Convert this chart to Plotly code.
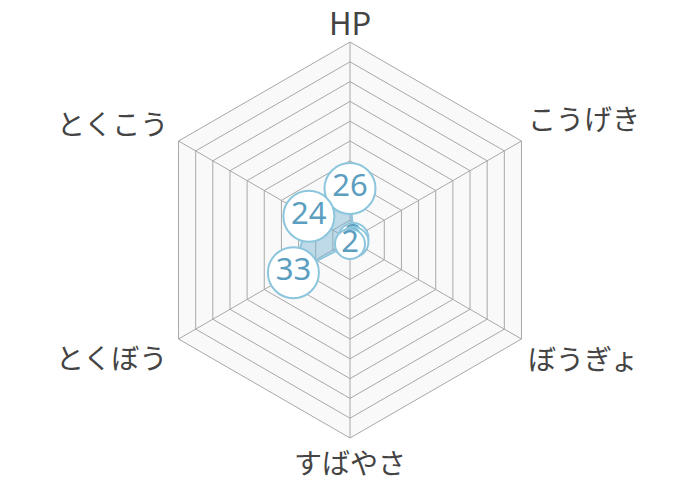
import math
import plotly.graph_objects as go

categories = ["HP", "こうげき", "ぼうぎょ", "すばやさ", "とくぼう", "とくこう"]
values = [26, 2, 2, 2, 33, 24]
labels = [str(v) for v in values]

# page body has an 8px margin, so the figure is laid out 8px up/left of where it shows
W, H = 700, 480
M = dict(l=0, r=16, t=34, b=50)
pw = W - M["l"] - M["r"]
ph = H - M["t"] - M["b"]
R = min(pw, ph) / 2

r_closed = values + values[:1]
theta_closed = categories + categories[:1]

fig = go.Figure()

fig.add_trace(go.Scatterpolar(
    r=r_closed, theta=theta_closed, mode="lines",
    fill="toself", fillcolor="rgba(110,175,210,0.42)",
    line=dict(color="#8cc6dc", width=2),
    hoverinfo="skip", showlegend=False,
))

# one trace per bubble so each label stays with its own circle when they stack
for cat, v, lab in zip(categories, values, labels):
    fig.add_trace(go.Scatterpolar(
        r=[v], theta=[cat], text=[lab],
        mode="markers+text",
        marker=dict(size=30 if len(lab) == 1 else 51, color="white",
                    line=dict(color="#8cc6dc", width=2), opacity=1),
        textfont=dict(family="Noto Sans", size=31, color="#5b9ec0"),
        textposition="middle center",
        hoverinfo="skip", showlegend=False,
    ))

# axis names as annotations, placed off each outer vertex
shifts = {
    "HP": ("center", 0, 21, 31),
    "こうげき": ("left", 5, 23, 28),
    "ぼうぎょ": ("left", 5, -19, 28),
    "すばやさ": ("center", 0, -24, 28),
    "とくぼう": ("right", -10, -18, 28),
    "とくこう": ("right", -9, 18, 28),
}
annotations = []
for i, cat in enumerate(categories):
    a = math.radians(i * 360 / len(categories))
    xa, dx, dy, fs = shifts[cat]
    annotations.append(dict(
        text=cat, xref="paper", yref="paper",
        x=0.5 + R * math.sin(a) / pw, y=0.5 + R * math.cos(a) / ph,
        xanchor=xa, yanchor="middle", xshift=dx, yshift=dy, showarrow=False,
        font=dict(family="Noto Sans CJK JP", size=fs, color="#444444"),
    ))

fig.update_layout(
    width=W, height=H,
    margin=M,
    paper_bgcolor="white",
    annotations=annotations,
    polar=dict(
        gridshape="linear",
        bgcolor="#f9f9f9",
        radialaxis=dict(range=[0, 100], dtick=10, showticklabels=False, ticks="",
                        showline=False, gridcolor="#a8a8a8", gridwidth=1),
        angularaxis=dict(rotation=90, direction="clockwise", ticks="",
                         showticklabels=False,
                         linecolor="#a8a8a8", gridcolor="#a8a8a8"),
    ),
)

fig.write_html("out.html")
